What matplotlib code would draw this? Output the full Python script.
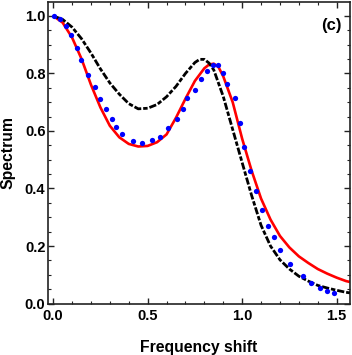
import matplotlib
matplotlib.use("Agg")
import matplotlib.pyplot as plt
from matplotlib.ticker import MultipleLocator

plt.rcParams['font.family'] = ['Liberation Sans', 'DejaVu Sans']
plt.rcParams['font.weight'] = 'bold'

# red solid curve
red_x = [0.00, 0.05, 0.10, 0.15, 0.20, 0.25, 0.30, 0.35, 0.40, 0.45, 0.50, 0.55,
         0.60, 0.65, 0.70, 0.75, 0.80, 0.825, 0.85, 0.875, 0.90, 0.95, 1.00, 1.05,
         1.10, 1.15, 1.20, 1.25, 1.30, 1.35, 1.40, 1.45, 1.50, 1.55, 1.57]
red_y = [1.000, 0.977, 0.925, 0.851, 0.761, 0.682, 0.618, 0.578, 0.555, 0.546, 0.548, 0.561,
         0.588, 0.646, 0.712, 0.774, 0.818, 0.831, 0.834, 0.822, 0.790, 0.700, 0.573, 0.462,
         0.365, 0.292, 0.235, 0.195, 0.164, 0.141, 0.120, 0.104, 0.090, 0.078, 0.075]

# black dash-dot curve
blk_x = [0.00, 0.05, 0.10, 0.15, 0.20, 0.25, 0.30, 0.35, 0.40, 0.45, 0.50, 0.55,
         0.60, 0.65, 0.70, 0.75, 0.775, 0.80, 0.825, 0.85, 0.90, 0.95, 1.00, 1.05,
         1.10, 1.15, 1.20, 1.25, 1.30, 1.35, 1.40, 1.45, 1.50, 1.55, 1.57]
blk_y = [1.000, 0.988, 0.961, 0.921, 0.871, 0.816, 0.767, 0.728, 0.695, 0.677, 0.679, 0.692,
         0.719, 0.755, 0.800, 0.838, 0.849, 0.849, 0.836, 0.812, 0.720, 0.605, 0.490, 0.376,
         0.272, 0.200, 0.152, 0.120, 0.095, 0.078, 0.063, 0.054, 0.046, 0.039, 0.037]

# blue dots
dot_x = [0.005, 0.037, 0.066, 0.092, 0.127, 0.148, 0.182, 0.219, 0.249, 0.279, 0.309, 0.332,
         0.363, 0.420, 0.471, 0.522, 0.566, 0.607, 0.656, 0.685, 0.709, 0.748, 0.780, 0.813,
         0.847, 0.871, 0.899, 0.919, 0.962, 0.986, 1.012, 1.041, 1.074, 1.104, 1.138, 1.166,
         1.199, 1.252, 1.320, 1.365, 1.410, 1.450, 1.485]
dot_y = [1.000, 0.989, 0.966, 0.932, 0.887, 0.846, 0.794, 0.752, 0.710, 0.677, 0.640, 0.613,
         0.588, 0.566, 0.559, 0.568, 0.579, 0.610, 0.643, 0.678, 0.714, 0.744, 0.781, 0.810,
         0.831, 0.829, 0.802, 0.763, 0.713, 0.626, 0.543, 0.461, 0.392, 0.325, 0.270, 0.230,
         0.185, 0.139, 0.095, 0.072, 0.053, 0.044, 0.037]

fig = plt.figure(figsize=(3.52, 3.55), dpi=100)
ax = fig.add_axes([0.137, 0.145, 0.857, 0.849])

ax.plot(red_x, red_y, color='#ff0000', lw=1.9, solid_capstyle='butt', zorder=2)
ax.plot(blk_x, blk_y, color='black', lw=2.0, linestyle=(0, (2.6, 0.7, 1.6, 0.7)), zorder=3)
ax.plot(dot_x, dot_y, 'o', color='#0000ff', markersize=3.8, markeredgewidth=0, zorder=4)

ax.set_xlim(-0.026, 1.570)
ax.set_ylim(0.0, 1.048)

ax.xaxis.set_major_locator(MultipleLocator(0.5))
ax.xaxis.set_minor_locator(MultipleLocator(0.1))
ax.yaxis.set_major_locator(MultipleLocator(0.2))
ax.yaxis.set_minor_locator(MultipleLocator(0.05))
ax.xaxis.set_major_formatter(plt.FormatStrFormatter('%.1f'))
ax.yaxis.set_major_formatter(plt.FormatStrFormatter('%.1f'))

ax.tick_params(which='both', direction='in', top=True, right=True, colors='#222222',
               labelcolor='black', labelsize=10.5)
ax.tick_params(which='major', length=4, width=1.0)
ax.tick_params(which='minor', length=2.5, width=0.8)
ax.tick_params(axis='x', pad=4)
ax.tick_params(axis='y', pad=2)
for s in ax.spines.values():
    s.set_linewidth(1.2)
    s.set_color('#222222')

ax.set_xlabel('Frequency shift', fontsize=11.3, fontweight='bold', labelpad=12)
ax.set_ylabel('Spectrum', fontsize=11.3, fontweight='bold', labelpad=7)

ax.text(1.47, 0.968, '(c)', fontsize=12, fontweight='bold', ha='center', va='center')

fig.savefig('out.png', dpi=100)
